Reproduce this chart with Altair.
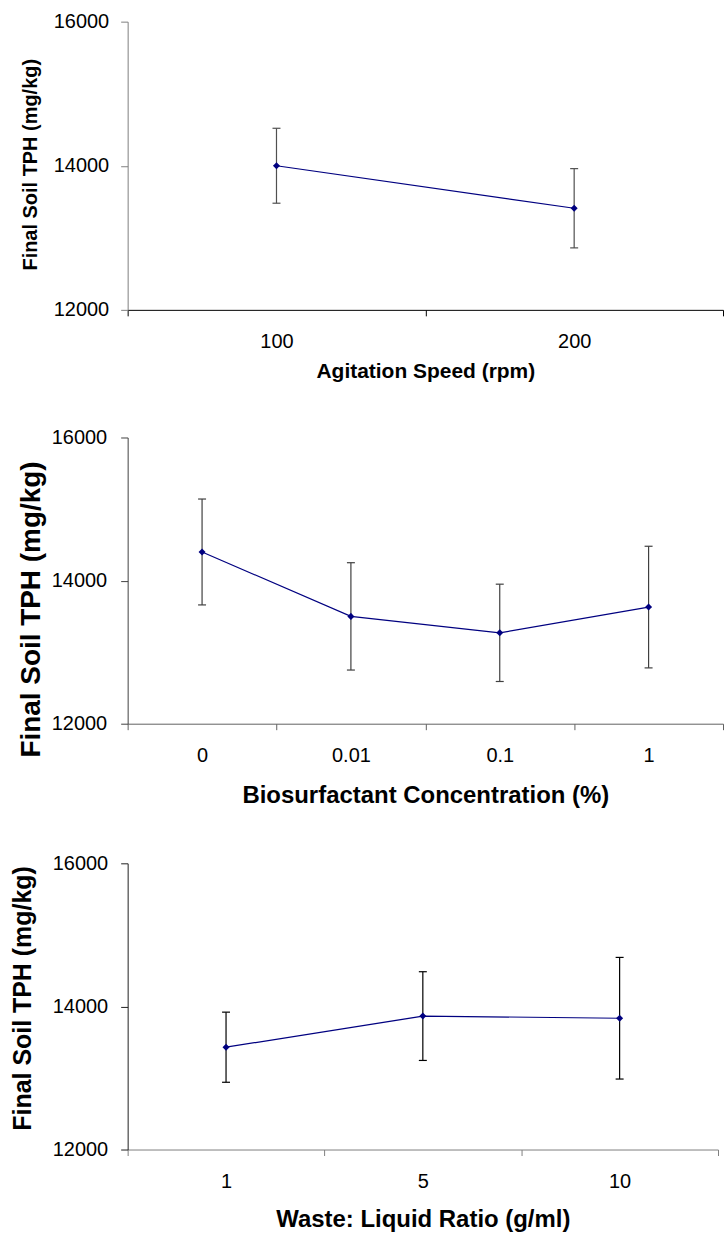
import altair as alt
import pandas as pd

# ---- data ----
speed_labels = ["100", "200"]
speed_mean = [14000, 13410]
speed_err = [520, 550]

conc_labels = ["0", "0.01", "0.1", "1"]
conc_mean = [14400, 13500, 13270, 13630]
conc_err = [740, 750, 680, 850]

ratio_labels = ["1", "5", "10"]
ratio_mean = [13430, 13865, 13835]
ratio_err = [490, 620, 850]

y_ticks = [12000, 14000, 16000]
y_title = "Final Soil TPH (mg/kg)"

FONT = "Liberation Sans"
NAVY = "#000080"


def panel(labels, means, errs, xtitle, width, height, cfg):
    df = pd.DataFrame({
        "cat": labels,
        "mean": means,
        "lo": [m - e for m, e in zip(means, errs)],
        "hi": [m + e for m, e in zip(means, errs)],
    })
    x = alt.X(
        "cat:N", sort=labels, bandPosition=0.5,
        scale=alt.Scale(type="band", paddingInner=0, paddingOuter=0),
        axis=alt.Axis(
            title=xtitle, labelAngle=0, tickBand="extent", ticks=True,
            tickSize=6, tickColor=cfg["xc"], domainColor=cfg["xc"],
            labelPadding=16, labelFontSize=20, labelFont=FONT, labelColor="black",
            titleFont=FONT, titleFontSize=cfg["xtf"], titleFontWeight="bold",
            titleColor="black", titlePadding=cfg["xtp"], grid=False,
        ),
    )
    yscale = alt.Scale(domain=[12000, 16000], nice=False, zero=False)
    yaxis = alt.Axis(
        title=y_title, values=y_ticks, format="d", tickSize=7,
        tickColor=cfg["yc"], domainColor=cfg["yc"],
        labelPadding=cfg["ylp"], labelFontSize=20, labelFont=FONT, labelColor="black",
        titleFont=FONT, titleFontSize=cfg["ytf"], titleFontWeight="bold",
        titleColor="black", titleX=cfg["tx"], titleY=cfg["ty"],
        titleAlign="center", titleBaseline="middle", grid=False,
    )

    def Y(field):
        return alt.Y(field, scale=yscale, axis=yaxis)

    base = alt.Chart(df)
    rule = base.mark_rule(color=cfg["ec"], strokeWidth=1.2).encode(
        x=x, y=Y("lo:Q"), y2="hi:Q")
    cap_lo = base.mark_tick(orient="horizontal", size=8, thickness=1.2,
                            color=cfg["ec"], opacity=1).encode(x=x, y=Y("lo:Q"))
    cap_hi = base.mark_tick(orient="horizontal", size=8, thickness=1.2,
                            color=cfg["ec"], opacity=1).encode(x=x, y=Y("hi:Q"))
    line = base.mark_line(color=NAVY, strokeWidth=1.2).encode(x=x, y=Y("mean:Q"))
    pts = base.mark_point(shape="diamond", filled=True, size=50, color=NAVY,
                          opacity=1).encode(x=x, y=Y("mean:Q"))
    return alt.layer(rule, cap_lo, cap_hi, line, pts).properties(
        width=width, height=height)


p1 = panel(speed_labels, speed_mean, speed_err, "Agitation Speed (rpm)", 597, 289,
           dict(xc="black", yc="#808080", ec="#505050", xtf=21, xtp=9,
                ytf=20, tx=-97, ty=143, ylp=12))
p2 = panel(conc_labels, conc_mean, conc_err, "Biosurfactant Concentration (%)", 597, 287,
           dict(xc="#606060", yc="#404040", ec="#404040", xtf=24, xtp=18,
                ytf=28, tx=-96, ty=172, ylp=14))
p3 = panel(ratio_labels, ratio_mean, ratio_err, "Waste: Liquid Ratio (g/ml)", 592, 287,
           dict(xc="#808080", yc="#202020", ec="black", xtf=24, xtp=16,
                ytf=25, tx=-105, ty=135, ylp=13))

chart = alt.vconcat(p1, p2, p3, spacing=46).properties(
    padding={"left": 10, "top": 10, "right": 0, "bottom": 0},
    background="white",
).configure_view(stroke=None)

chart.save("out.html", embed_options={"renderer": "svg", "actions": False})
